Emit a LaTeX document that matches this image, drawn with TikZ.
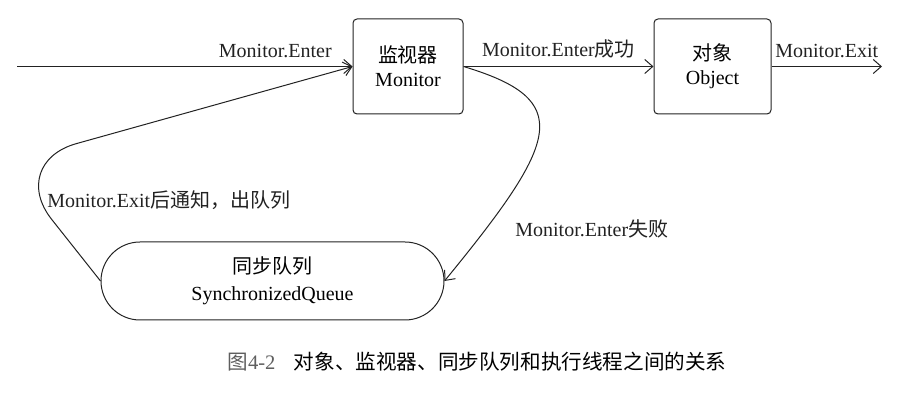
\documentclass[tikz,border=0pt]{standalone}
\usepackage{fontspec}
\setmainfont{Liberation Serif}
\newfontfamily\cjk{Noto Sans CJK SC}
\usetikzlibrary{arrows.meta, positioning, shapes.misc}
\definecolor{ink}{RGB}{34, 34, 34}
\definecolor{capgray}{RGB}{95, 95, 95}
\tikzset{
    box/.style={rectangle, rounded corners=2pt, draw=ink, line width=0.5pt, align=center, font=\fontsize{10}{12}\selectfont, minimum height=47.5pt, inner sep=2pt},
    queue/.style={rounded rectangle, draw=ink, line width=0.5pt, align=center, font=\fontsize{10}{13.5}\selectfont, minimum width=175.5pt, minimum height=39pt, inner sep=2pt},
    lbl/.style={font=\fontsize{10}{12}\selectfont, inner sep=1pt, text=ink},
    arr/.style={-{Straight Barb[length=4pt, width=7pt]}, line width=0.5pt, ink},
    caption/.style={font=\fontsize{10.3}{12}\selectfont, inner sep=0pt}
}
\begin{document}
\begin{tikzpicture}[x=0.5pt, y=-0.5pt]
        \useasboundingbox (0,0) rectangle (918,406);
        \node[box, minimum width=55pt] (mon) at (408,66.5) {{\cjk 监视器}\\Monitor};
        \node[box, minimum width=58.5pt] (obj) at (712.5,66.5) {{\cjk 对象}\\Object};
        \node[queue] (sq) at (272.5,281) {{\cjk 同步队列}\\SynchronizedQueue};
        \coordinate (src) at (17,66.5);
        \coordinate (sink) at (882,66.5);
        \coordinate (bend) at (7,163);

        \draw[arr] (src)--node[lbl, above=3pt, pos=0.77]{Monitor.Enter}(mon);
        \draw[arr] (mon)--node[lbl, above=3pt]{Monitor.Enter{\cjk 成功}}(obj);
        \draw[arr] (obj)--node[lbl, above=3pt]{Monitor.Exit}(sink);
        \draw[arr] (mon.east) .. controls (575,100) and (560,140) .. (sq.east);
        \draw[arr, rounded corners=36pt] (sq.west)--(bend)--(mon.west);

        \node[lbl, anchor=west] (fail) at (513,229) {Monitor.Enter{\cjk 失败}};
        \node[lbl, anchor=west] (notify) at (45,200) {Monitor.Exit{\cjk 后通知，出队列}};
        \node[caption, anchor=west] (cap) at (227,362) {{\color{capgray}{\cjk 图}4-2}\hspace{0.9em}{\cjk 对象、监视器、同步队列和执行线程之间的关系}};
    \end{tikzpicture}
\end{document}
